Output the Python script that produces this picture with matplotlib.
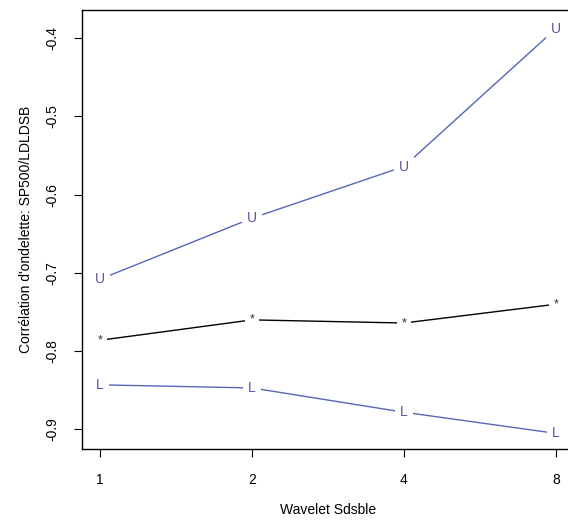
import matplotlib.pyplot as plt
import numpy as np

plt.rcParams['font.family'] = ['Liberation Sans', 'DejaVu Sans']

# echelles d'ondelettes
echelles = [1, 2, 4, 8]
pozice = [1, 2, 3, 4]

# korelace: horni mez, odhad, dolni mez
horni = [-0.708, -0.630, -0.564, -0.388]
odhad = [-0.786, -0.760, -0.764, -0.740]
dolni = [-0.843, -0.847, -0.878, -0.905]

modra = '#5566bb'
modra_text = '#5a52b0'

fig = plt.figure(figsize=(5.68, 5.22), dpi=100)
ax = fig.add_axes([82/568, 73/522, 492/568, 439/522])

# car s mezerami kolem bodu (jako type="b" v R)
def rada(y, znak, barva, barva_text, size):
    ax.plot(pozice, y, color=barva, lw=1.0, zorder=1)
    for x, v in zip(pozice, y):
        ax.text(x, v, znak, color=barva_text, fontsize=size, ha='center', va='center',
                zorder=3, bbox=dict(boxstyle='square,pad=0.35', fc='white', ec='none'))

rada(horni, 'U', modra, modra_text, 10)
rada(odhad, '*', 'black', '#333333', 9)
rada(dolni, 'L', modra, modra_text, 10)

ax.set_xlim(0.88, 4.12)
ax.set_ylim(-0.925, -0.364)
ax.set_xticks(pozice)
ax.set_xticklabels([str(e) for e in echelles])
ax.set_yticks([-0.9, -0.8, -0.7, -0.6, -0.5, -0.4])
ax.set_yticklabels(['-0.9', '-0.8', '-0.7', '-0.6', '-0.5', '-0.4'], rotation=90, va='center')
ax.tick_params(labelsize=10, length=6, width=0.8)
ax.tick_params(axis='x', pad=11)
ax.tick_params(axis='y', pad=10)

for s in ax.spines.values():
    s.set_linewidth(1.0)

ax.set_xlabel("Wavelet Sdsble", fontsize=10)
ax.set_ylabel("Corrélation d'ondelette: SP500/LDLDSB", fontsize=10)
ax.xaxis.set_label_coords(0.5, -0.123)
ax.yaxis.set_label_coords(-0.10, 0.5)

plt.savefig("out.png", dpi=100)
